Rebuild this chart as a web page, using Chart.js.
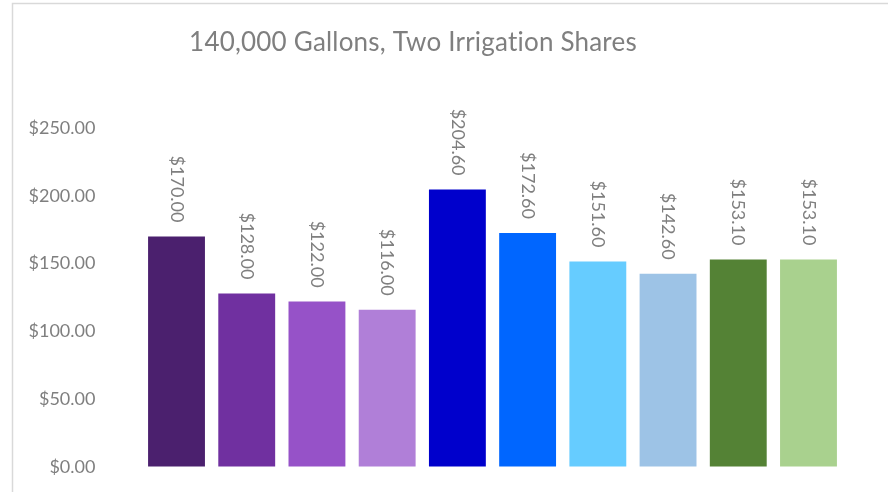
<!DOCTYPE html>
<html>
<head>
<meta charset="utf-8">
<script src="https://cdn.jsdelivr.net/npm/chart.js@4/dist/chart.umd.min.js"></script>
<style>
html,body{margin:0;padding:0;background:#fff;}
</style>
</head>
<body>
<canvas id="c" width="888" height="492"></canvas>
<script>
const titleText = "140,000 Gallons, Two Irrigation Shares";
const categories = ["1","2","3","4","5","6","7","8","9","10"];
const values = [170.00, 128.00, 122.00, 116.00, 204.60, 172.60, 151.60, 142.60, 153.10, 153.10];
const barColors = ["#4b206e","#7030a0","#9652c8","#b07fd8","#0000cc","#0066ff","#66ccff","#9dc3e6","#548235","#a9d18e"];
const yTicks = [0, 50, 100, 150, 200, 250];

const FONT = "Lato, 'Open Sans', sans-serif";
const TXT = "#7f7f7f";
const fmt = v => "$" + v.toFixed(2);

const framePlugin = {
  id: 'frame',
  beforeDraw(chart) {
    const ctx = chart.ctx;
    ctx.save();
    ctx.fillStyle = '#fff';
    ctx.fillRect(0, 0, chart.width, chart.height);
    ctx.strokeStyle = '#d9d9d9';
    ctx.lineWidth = 1.5;
    ctx.beginPath();
    ctx.moveTo(12.5, chart.height + 5);
    ctx.lineTo(12.5, 3.5);
    ctx.lineTo(chart.width + 5, 3.5);
    ctx.stroke();
    ctx.restore();
  }
};

const titlePlugin = {
  id: 'customTitle',
  afterDraw(chart) {
    const ctx = chart.ctx;
    ctx.save();
    ctx.fillStyle = TXT;
    ctx.font = "26px " + FONT;
    if ('letterSpacing' in ctx) ctx.letterSpacing = '0.2px';
    ctx.textAlign = 'center';
    ctx.textBaseline = 'middle';
    ctx.fillText(titleText, 413, 43);
    ctx.restore();
  }
};

const labelPlugin = {
  id: 'rotLabels',
  afterDatasetsDraw(chart) {
    const ctx = chart.ctx;
    const meta = chart.getDatasetMeta(0);
    ctx.save();
    ctx.fillStyle = TXT;
    ctx.font = "18px " + FONT;
    meta.data.forEach((bar, i) => {
      ctx.save();
      ctx.translate(bar.x, bar.y - 14);
      ctx.rotate(Math.PI / 2);
      ctx.textAlign = 'right';
      ctx.textBaseline = 'middle';
      ctx.fillText(fmt(values[i]), 0, 0);
      ctx.restore();
    });
    ctx.restore();
  }
};

new Chart(document.getElementById('c'), {
  type: 'bar',
  data: {
    labels: categories,
    datasets: [{
      data: values,
      backgroundColor: barColors,
      borderWidth: 0,
      barPercentage: 0.81,
      categoryPercentage: 1.0
    }]
  },
  options: {
    responsive: false,
    animation: false,
    layout: { padding: { left: 0, right: 44.4, top: 128, bottom: 25 } },
    plugins: { legend: { display: false }, title: { display: false }, tooltip: { enabled: false } },
    scales: {
      x: { display: false, grid: { display: false } },
      y: {
        min: 0, max: 250,
        border: { display: false },
        grid: { display: true, drawOnChartArea: false, drawTicks: true, tickLength: 46, color: 'rgba(0,0,0,0)' },
        afterBuildTicks(scale) { scale.ticks = yTicks.map(v => ({ value: v })); },
        afterFit(scale) { scale.width = 141.4; },
        ticks: {
          padding: 0,
          color: TXT,
          font: { family: FONT, size: 18 },
          callback: v => fmt(v)
        }
      }
    }
  },
  plugins: [framePlugin, titlePlugin, labelPlugin]
});
</script>
</body>
</html>
